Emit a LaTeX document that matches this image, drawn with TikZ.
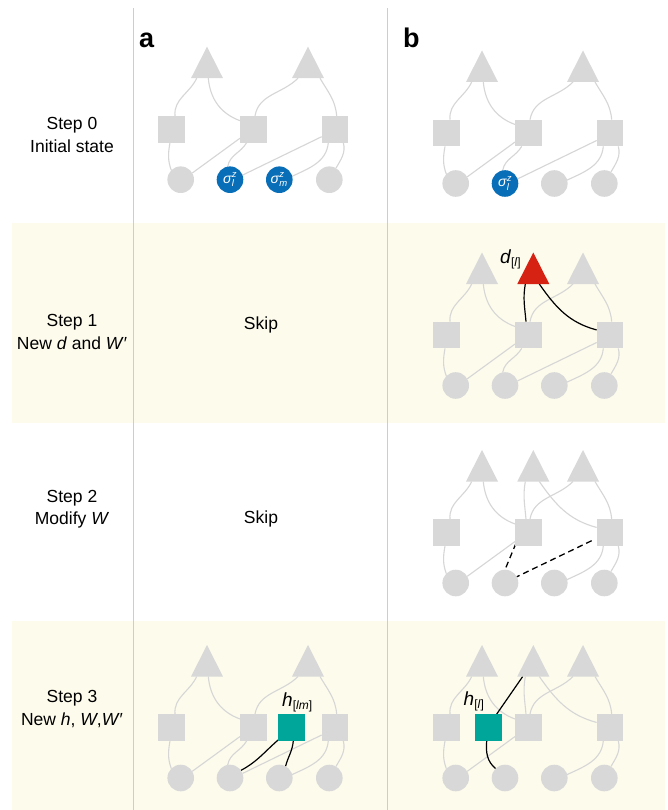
\documentclass[tikz,border=0pt]{standalone}
\usepackage{fontspec}
\setmainfont{Liberation Sans}
\usetikzlibrary{calc}

\pgfdeclarelayer{bands}
\pgfdeclarelayer{links}
\pgfsetlayers{bands,links,main}

\definecolor{nodegray}{RGB}{216,216,216}
\definecolor{linkgray}{RGB}{214,214,214}
\definecolor{bandyellow}{RGB}{253,251,236}
\definecolor{rulegray}{RGB}{205,205,205}
\definecolor{spinblue}{RGB}{8,110,184}
\definecolor{fieldred}{RGB}{213,34,18}
\definecolor{hidteal}{RGB}{0,166,154}

\tikzset{
  tri/.style={minimum width=32, minimum height=31.5, inner sep=0, outer sep=0,
    path picture={\fill[#1] (path picture bounding box.south west)
      -- (path picture bounding box.south east)
      -- (path picture bounding box.north) -- cycle;}},
  tri/.default=nodegray,
  sq/.style={fill=#1, minimum size=26.7, inner sep=0, outer sep=0},
  sq/.default=nodegray,
  ci/.style={circle, fill=#1, minimum size=26.6, inner sep=0, outer sep=0},
  ci/.default=nodegray,
  link/.style={draw=linkgray, line width=1.1},
  newlink/.style={draw=black, line width=1.2},
  droplink/.style={draw=black, line width=1.3, dash pattern=on 6pt off 4pt},
  steptext/.style={align=center, font=\fontsize{17.5}{22.4}\selectfont},
  panellabel/.style={anchor=base west, inner sep=0, font=\fontsize{27}{27}\selectfont\bfseries},
  varlabel/.style={anchor=base west, inner sep=0, font=\fontsize{19}{19}\selectfont},
}

% triangle (visible unit), square (hidden unit), circle (spin)
\newcommand\tnode[3][nodegray]{\node[tri=#1] (#2) at (#3,-15.75) {};}
\newcommand\snode[3][nodegray]{\node[sq=#1] (#2) at (#3,-82.5) {};}
\newcommand\cnode[3][nodegray]{\node[ci=#1] (#2) at (#3,-133) {};}
\newcommand\spinlab[1]{\fontsize{14}{14}\selectfont\itshape σ\kern0.3pt$^{\mbox{\fontsize{9.5}{9.5}\selectfont\itshape z}}_{\mbox{\fontsize{9.5}{9.5}\selectfont\itshape #1}}$}
\newcommand\subbr[1]{\raisebox{-3pt}{\fontsize{12}{12}\selectfont[\textit{#1}]}}

% connections shared by every network
\newcommand\coreedges[1]{%
  \draw[link] ([xshift=3.3pt]#1-S1.north) to[out=95,in=-115] ([xshift=-10.3pt]#1-TL.south);
  \draw[link] ([xshift=1.3pt]#1-TL.south) to[out=-85,in=160] ([yshift=-4.8pt]#1-S2.north west);
  \draw[link] ([xshift=-10pt]#1-TR.south) to[out=-135,in=80] ([xshift=1.7pt]#1-S2.north);
  \draw[link] ([xshift=12pt]#1-TR.south) to[out=-60,in=95] ([xshift=1.7pt]#1-S3.north);
  \draw[link] ([xshift=-1.7pt]#1-S1.south) to[out=-100,in=110] (#1-C1.135);
  \draw[link] ([yshift=4.3pt]#1-S2.south west) -- (#1-C1.30);
  \draw[link] ([xshift=-6.7pt]#1-S3.south) to[out=-95,in=25] (#1-C3.15);
  \draw[link] ([xshift=8.3pt]#1-S3.south) to[out=-75,in=60] (#1-C4.60);
}
\newcommand\crossedges[1]{%
  \draw[link] ([xshift=-6.6pt]#1-S2.south) to[out=-120,in=80] (#1-C2.100);
  \draw[link] ([yshift=-7.5pt]#1-S3.west) -- (#1-C2.20);
}
\newcommand\midedges[2]{%
  \draw[#2] ([xshift=-8pt]#1-TM.south) to[out=-100,in=95] ([xshift=-2.3pt]#1-S2.north);
  \draw[#2] ([xshift=6pt]#1-TM.south) to[out=-55,in=165] ([yshift=-8.3pt]#1-S3.north west);
}

\begin{document}
\begin{tikzpicture}[x=1pt,y=1pt]
\useasboundingbox (0,0) rectangle (667,-810);

\begin{pgfonlayer}{bands}
  \fill[white] (0,0) rectangle (667,-810);
  \fill[bandyellow] (12,-223.3) rectangle (665,-422.7);
  \fill[bandyellow] (12,-621) rectangle (665,-810);
  \draw[rulegray, line width=1] (133.5,-8) -- (133.5,-810);
  \draw[rulegray, line width=1] (387.5,-8) -- (387.5,-810);
\end{pgfonlayer}

% column and row headings
\node[panellabel] (lab-a) at (139,-48) {a};
\node[panellabel] (lab-b) at (403,-48) {b};
\node[steptext] (step0) at (72,-135) {Step 0\\Initial state};
\node[steptext] (step1) at (72,-332) {Step 1\\New \textit{d} and \textit{W}′};
\node[steptext] (step2) at (72,-509) {Step 2\\Modify \textit{W}};
\node[steptext] (step3) at (72,-709) {Step 3\\New \textit{h}, \textit{W},\textit{W}′};
\node[steptext] (skip1) at (261,-324.5) {Skip};
\node[steptext] (skip2) at (261,-518.5) {Skip};

% ---- step 0, panel a
\begin{scope}[shift={(0,-46.7)}]
  \tnode{a0-TL}{207} \tnode{a0-TR}{308}
  \snode{a0-S1}{171.7} \snode{a0-S2}{253.3} \snode{a0-S3}{335}
  \cnode{a0-C1}{180.7}
  \node[ci=spinblue, text=white] (a0-C2) at (230,-133) {\spinlab{l}};
  \node[ci=spinblue, text=white] (a0-C3) at (279.3,-133) {\spinlab{m}};
  \cnode{a0-C4}{329.3}
  \begin{pgfonlayer}{links}
    \coreedges{a0} \crossedges{a0}
  \end{pgfonlayer}
\end{scope}

% ---- step 0, panel b
\begin{scope}[shift={(275,-50.5)}]
  \tnode{b0-TL}{207} \tnode{b0-TR}{308}
  \snode{b0-S1}{171.7} \snode{b0-S2}{253.3} \snode{b0-S3}{335}
  \cnode{b0-C1}{180.7}
  \node[ci=spinblue, text=white] (b0-C2) at (230,-133) {\spinlab{l}};
  \cnode{b0-C3}{279.3} \cnode{b0-C4}{329.3}
  \begin{pgfonlayer}{links}
    \coreedges{b0} \crossedges{b0}
  \end{pgfonlayer}
\end{scope}

% ---- step 1, panel b: new visible unit
\begin{scope}[shift={(275,-252.5)}]
  \tnode{b1-TL}{207} \tnode[fieldred]{b1-TM}{258.3} \tnode{b1-TR}{308}
  \snode{b1-S1}{171.7} \snode{b1-S2}{253.3} \snode{b1-S3}{335}
  \cnode{b1-C1}{180.7} \cnode{b1-C2}{230} \cnode{b1-C3}{279.3} \cnode{b1-C4}{329.3}
  \node[varlabel] (b1-dlab) at (224.8,-10.8) {\textit{d}\subbr{l}};
  \begin{pgfonlayer}{links}
    \coreedges{b1} \crossedges{b1}
    \midedges{b1}{newlink}
  \end{pgfonlayer}
\end{scope}

% ---- step 2, panel b: modified couplings
\begin{scope}[shift={(275,-450)}]
  \tnode{b2-TL}{207} \tnode{b2-TM}{258.3} \tnode{b2-TR}{308}
  \snode{b2-S1}{171.7} \snode{b2-S2}{253.3} \snode{b2-S3}{335}
  \cnode{b2-C1}{180.7} \cnode{b2-C2}{230} \cnode{b2-C3}{279.3} \cnode{b2-C4}{329.3}
  \begin{pgfonlayer}{links}
    \coreedges{b2}
    \midedges{b2}{link}
    \draw[droplink] ([xshift=1pt,yshift=2.5pt]b2-S2.south west) -- (b2-C2.north);
    \draw[droplink] ([xshift=-5pt,yshift=-8.2pt]b2-S3.west) -- (b2-C2.28);
  \end{pgfonlayer}
\end{scope}

% ---- step 3, panel a: new hidden unit
\begin{scope}[shift={(0,-645)}]
  \tnode{a3-TL}{207} \tnode{a3-TR}{308}
  \snode{a3-S1}{171.7} \snode{a3-S2}{253.3} \snode[hidteal]{a3-G}{291.7} \snode{a3-S3}{335}
  \cnode{a3-C1}{180.7} \cnode{a3-C2}{230} \cnode{a3-C3}{279.3} \cnode{a3-C4}{329.3}
  \node[varlabel] (a3-hlab) at (282,-61) {\textit{h}\subbr{lm}};
  \begin{pgfonlayer}{links}
    \coreedges{a3} \crossedges{a3}
    \draw[newlink] ([xshift=1.7pt,yshift=2.5pt]a3-G.south west) to[out=-140,in=28] (a3-C2.35);
    \draw[newlink] ([xshift=1.6pt]a3-G.south) to[out=-95,in=75] (a3-C3.62);
  \end{pgfonlayer}
\end{scope}

% ---- step 3, panel b: new hidden unit
\begin{scope}[shift={(275,-645)}]
  \tnode{b3-TL}{207} \tnode{b3-TM}{258.3} \tnode{b3-TR}{308}
  \snode{b3-S1}{171.7} \snode[hidteal]{b3-G}{213.3} \snode{b3-S2}{253.3} \snode{b3-S3}{335}
  \cnode{b3-C1}{180.7} \cnode{b3-C2}{230} \cnode{b3-C3}{279.3} \cnode{b3-C4}{329.3}
  \node[varlabel] (b3-hlab) at (188.5,-60.5) {\textit{h}\subbr{l}};
  \begin{pgfonlayer}{links}
    \coreedges{b3}
    \midedges{b3}{link}
    \draw[newlink] ([xshift=-5pt]b3-G.north east) -- ([xshift=-10.6pt]b3-TM.south);
    \draw[newlink] ([xshift=-1.6pt]b3-G.south) to[out=-95,in=140] (b3-C2.135);
  \end{pgfonlayer}
\end{scope}
\end{tikzpicture}
\end{document}
